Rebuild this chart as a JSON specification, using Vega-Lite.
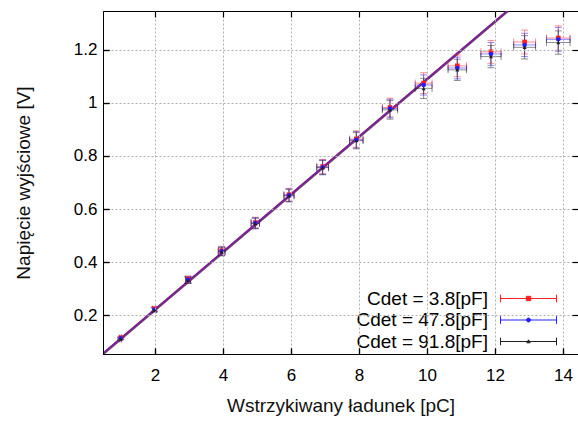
{
  "$schema": "https://vega.github.io/schema/vega-lite/v6.json",
  "width": 475,
  "height": 343,
  "autosize": {"type": "none"},
  "padding": {"left": 103, "top": 11, "right": 0, "bottom": 67},
  "background": "white",
  "config": {
    "view": {"stroke": "#000000", "strokeWidth": 1},
    "font": "Liberation Sans",
    "axis": {
      "labelFont": "Liberation Sans", "labelFontSize": 17, "labelColor": "#000000",
      "titleFont": "Liberation Sans", "titleFontSize": 19, "titleFontWeight": "normal", "titleColor": "#111111",
      "domainColor": "#000000", "tickColor": "#000000", "tickSize": -6, "tickWidth": 1.2,
      "gridColor": "#b0b0b0", "gridDash": [2, 2], "gridWidth": 1
    }
  },
  "resolve": {"axis": {"x": "independent", "y": "independent"}},
  "datasets": {
    "pts": [
      {"series": "Cdet = 3.8[pF]", "x": 0.99, "ex": 0.025, "y": 0.114, "ey": 0.004},
      {"series": "Cdet = 3.8[pF]", "x": 1.98, "ex": 0.05, "y": 0.223, "ey": 0.008},
      {"series": "Cdet = 3.8[pF]", "x": 2.97, "ex": 0.074, "y": 0.335, "ey": 0.012},
      {"series": "Cdet = 3.8[pF]", "x": 3.96, "ex": 0.099, "y": 0.443, "ey": 0.016},
      {"series": "Cdet = 3.8[pF]", "x": 4.95, "ex": 0.124, "y": 0.549, "ey": 0.02},
      {"series": "Cdet = 3.8[pF]", "x": 5.94, "ex": 0.149, "y": 0.654, "ey": 0.024},
      {"series": "Cdet = 3.8[pF]", "x": 6.93, "ex": 0.173, "y": 0.76, "ey": 0.027},
      {"series": "Cdet = 3.8[pF]", "x": 7.92, "ex": 0.198, "y": 0.864, "ey": 0.031},
      {"series": "Cdet = 3.8[pF]", "x": 8.91, "ex": 0.223, "y": 0.983, "ey": 0.035},
      {"series": "Cdet = 3.8[pF]", "x": 9.9, "ex": 0.248, "y": 1.075, "ey": 0.039},
      {"series": "Cdet = 3.8[pF]", "x": 10.89, "ex": 0.272, "y": 1.14, "ey": 0.041},
      {"series": "Cdet = 3.8[pF]", "x": 11.88, "ex": 0.297, "y": 1.193, "ey": 0.043},
      {"series": "Cdet = 3.8[pF]", "x": 12.87, "ex": 0.322, "y": 1.23, "ey": 0.045},
      {"series": "Cdet = 3.8[pF]", "x": 13.86, "ex": 0.347, "y": 1.245, "ey": 0.046},
      {"series": "Cdet = 47.8[pF]", "x": 0.99, "ex": 0.025, "y": 0.112, "ey": 0.004},
      {"series": "Cdet = 47.8[pF]", "x": 1.98, "ex": 0.05, "y": 0.221, "ey": 0.008},
      {"series": "Cdet = 47.8[pF]", "x": 2.97, "ex": 0.074, "y": 0.333, "ey": 0.012},
      {"series": "Cdet = 47.8[pF]", "x": 3.96, "ex": 0.099, "y": 0.441, "ey": 0.016},
      {"series": "Cdet = 47.8[pF]", "x": 4.95, "ex": 0.124, "y": 0.547, "ey": 0.02},
      {"series": "Cdet = 47.8[pF]", "x": 5.94, "ex": 0.149, "y": 0.652, "ey": 0.024},
      {"series": "Cdet = 47.8[pF]", "x": 6.93, "ex": 0.173, "y": 0.758, "ey": 0.027},
      {"series": "Cdet = 47.8[pF]", "x": 7.92, "ex": 0.198, "y": 0.861, "ey": 0.031},
      {"series": "Cdet = 47.8[pF]", "x": 8.91, "ex": 0.223, "y": 0.979, "ey": 0.035},
      {"series": "Cdet = 47.8[pF]", "x": 9.9, "ex": 0.248, "y": 1.068, "ey": 0.038},
      {"series": "Cdet = 47.8[pF]", "x": 10.89, "ex": 0.272, "y": 1.132, "ey": 0.041},
      {"series": "Cdet = 47.8[pF]", "x": 11.88, "ex": 0.297, "y": 1.185, "ey": 0.043},
      {"series": "Cdet = 47.8[pF]", "x": 12.87, "ex": 0.322, "y": 1.219, "ey": 0.044},
      {"series": "Cdet = 47.8[pF]", "x": 13.86, "ex": 0.347, "y": 1.24, "ey": 0.045},
      {"series": "Cdet = 91.8[pF]", "x": 0.99, "ex": 0.025, "y": 0.11, "ey": 0.004},
      {"series": "Cdet = 91.8[pF]", "x": 1.98, "ex": 0.05, "y": 0.219, "ey": 0.008},
      {"series": "Cdet = 91.8[pF]", "x": 2.97, "ex": 0.074, "y": 0.331, "ey": 0.012},
      {"series": "Cdet = 91.8[pF]", "x": 3.96, "ex": 0.099, "y": 0.439, "ey": 0.016},
      {"series": "Cdet = 91.8[pF]", "x": 4.95, "ex": 0.124, "y": 0.545, "ey": 0.02},
      {"series": "Cdet = 91.8[pF]", "x": 5.94, "ex": 0.149, "y": 0.65, "ey": 0.023},
      {"series": "Cdet = 91.8[pF]", "x": 6.93, "ex": 0.173, "y": 0.756, "ey": 0.027},
      {"series": "Cdet = 91.8[pF]", "x": 7.92, "ex": 0.198, "y": 0.858, "ey": 0.031},
      {"series": "Cdet = 91.8[pF]", "x": 8.91, "ex": 0.223, "y": 0.974, "ey": 0.035},
      {"series": "Cdet = 91.8[pF]", "x": 9.9, "ex": 0.248, "y": 1.055, "ey": 0.038},
      {"series": "Cdet = 91.8[pF]", "x": 10.89, "ex": 0.272, "y": 1.125, "ey": 0.04},
      {"series": "Cdet = 91.8[pF]", "x": 11.88, "ex": 0.297, "y": 1.175, "ey": 0.042},
      {"series": "Cdet = 91.8[pF]", "x": 12.87, "ex": 0.322, "y": 1.21, "ey": 0.044},
      {"series": "Cdet = 91.8[pF]", "x": 13.86, "ex": 0.347, "y": 1.228, "ey": 0.044}
    ],
    "fits": [
      {"series": "Cdet = 91.8[pF]", "x": 0.3, "y": 0.0336},
      {"series": "Cdet = 91.8[pF]", "x": 12.8, "y": 1.3924},
      {"series": "Cdet = 3.8[pF]", "x": 0.3, "y": 0.0366},
      {"series": "Cdet = 3.8[pF]", "x": 12.8, "y": 1.3954},
      {"series": "Cdet = 47.8[pF]", "x": 0.3, "y": 0.0366},
      {"series": "Cdet = 47.8[pF]", "x": 12.8, "y": 1.3954}
    ]
  },
  "layer": [
    {
      "data": {"name": "pts"},
      "mark": {"type": "point", "filled": false, "opacity": 0, "size": 400, "clip": true},
      "encoding": {
        "x": {"field": "x", "type": "quantitative", "scale": {"domain": [0.47, 14.44], "nice": false, "zero": false},
              "axis": {"orient": "bottom", "values": [2, 4, 6, 8, 10, 12, 14], "title": "Wstrzykiwany ładunek [pC]", "grid": true, "labelPadding": 19, "titlePadding": 13, "zindex": 1}},
        "y": {"field": "y", "type": "quantitative", "scale": {"domain": [0.053, 1.347], "nice": false, "zero": false},
              "axis": {"orient": "left", "values": [0.2, 0.4, 0.6, 0.8, 1, 1.2], "format": "~g", "title": "Napięcie wyjściowe [V]", "grid": true, "labelPadding": 12, "titlePadding": 40, "zindex": 1}},
        "color": {"field": "series", "type": "nominal",
                  "scale": {"domain": ["Cdet = 3.8[pF]", "Cdet = 47.8[pF]", "Cdet = 91.8[pF]"], "range": ["#ff2020", "#2020ff", "#202020"]},
                  "legend": {"title": null, "orient": "none", "legendX": 415, "legendY": 277, "labelAlign": "right", "labelOffset": -51,
                             "labelFont": "Liberation Sans", "labelFontSize": 19, "labelColor": "#000000", "symbolSize": 400, "symbolStrokeWidth": 1,
                             "symbolOpacity": 1, "fillColor": "white", "padding": 0, "rowPadding": 0.5, "labelLimit": 300}},
        "shape": {"field": "series", "type": "nominal",
                  "scale": {"domain": ["Cdet = 3.8[pF]", "Cdet = 47.8[pF]", "Cdet = 91.8[pF]"],
                            "range": [
                              "M -2.8 0 L 2.8 0 M -2.8 -0.38 L -2.8 0.38 M 2.8 -0.38 L 2.8 0.38 M -0.22 -0.22 L 0.22 -0.22 L 0.22 0.22 L -0.22 0.22 Z M -0.1 -0.1 L 0.1 -0.1 L 0.1 0.1 L -0.1 0.1 Z",
                              "M -2.8 0 L 2.8 0 M -2.8 -0.38 L -2.8 0.38 M 2.8 -0.38 L 2.8 0.38 M -0.2 0 A 0.2 0.2 0 1 0 0.2 0 A 0.2 0.2 0 1 0 -0.2 0 Z M -0.08 0 A 0.08 0.08 0 1 0 0.08 0 A 0.08 0.08 0 1 0 -0.08 0 Z",
                              "M -2.8 0 L 2.8 0 M -2.8 -0.38 L -2.8 0.38 M 2.8 -0.38 L 2.8 0.38 M 0 -0.17 L 0.17 0.13 L -0.17 0.13 Z"
                            ]},
                  "legend": {"title": null, "orient": "none", "legendX": 415, "legendY": 277, "labelAlign": "right", "labelOffset": -51,
                             "labelFont": "Liberation Sans", "labelFontSize": 19, "labelColor": "#000000", "symbolSize": 400, "symbolStrokeWidth": 1,
                             "symbolOpacity": 1, "fillColor": "white", "padding": 0, "rowPadding": 0.5, "labelLimit": 300}}
      }
    },
    {
      "data": {"name": "pts"},
      "mark": {"type": "point", "opacity": 0},
      "encoding": {
        "x": {"field": "x", "type": "quantitative", "axis": {"orient": "top", "values": [2, 4, 6, 8, 10, 12, 14], "labels": false, "title": null, "grid": false, "domain": false, "ticks": true, "tickSize": 6, "offset": -6, "tickColor": "#000000", "tickWidth": 1.2, "zindex": 1}},
        "y": {"field": "y", "type": "quantitative", "axis": {"orient": "right", "values": [0.2, 0.4, 0.6, 0.8, 1, 1.2], "labels": false, "title": null, "grid": false, "domain": false, "ticks": true, "tickSize": 6, "offset": -6, "tickColor": "#000000", "tickWidth": 1.2, "zindex": 1}}
      }
    },
    {
      "data": {"name": "pts"},
      "mark": {"type": "point", "opacity": 0},
      "encoding": {
        "x": {"field": "x", "type": "quantitative", "axis": {"orient": "bottom", "values": [2, 4, 6, 8, 10, 12, 14], "labels": false, "title": null, "grid": false, "domain": false, "ticks": true, "tickSize": 6, "offset": -6, "tickColor": "#000000", "tickWidth": 1.2, "zindex": 1}},
        "y": {"field": "y", "type": "quantitative", "axis": {"orient": "left", "values": [0.2, 0.4, 0.6, 0.8, 1, 1.2], "labels": false, "title": null, "grid": false, "domain": false, "ticks": true, "tickSize": 6, "offset": -6, "tickColor": "#000000", "tickWidth": 1.2, "zindex": 1}}
      }
    },
    {
      "data": {"name": "fits"},
      "transform": [{"filter": "datum.series == 'Cdet = 91.8[pF]'"}],
      "mark": {"type": "line", "strokeWidth": 2.2, "clip": true, "opacity": 0.75},
      "encoding": {
        "x": {"field": "x", "type": "quantitative", "axis": null},
        "y": {"field": "y", "type": "quantitative", "axis": null},
        "color": {"field": "series", "type": "nominal", "legend": null}
      }
    },
    {
      "data": {"name": "fits"},
      "transform": [{"filter": "datum.series == 'Cdet = 3.8[pF]'"}],
      "mark": {"type": "line", "strokeWidth": 1.8, "clip": true},
      "encoding": {
        "x": {"field": "x", "type": "quantitative", "axis": null},
        "y": {"field": "y", "type": "quantitative", "axis": null},
        "color": {"field": "series", "type": "nominal", "legend": null}
      }
    },
    {
      "data": {"name": "fits"},
      "transform": [{"filter": "datum.series == 'Cdet = 47.8[pF]'"}],
      "mark": {"type": "line", "strokeWidth": 1.8, "clip": true, "opacity": 0.6},
      "encoding": {
        "x": {"field": "x", "type": "quantitative", "axis": null},
        "y": {"field": "y", "type": "quantitative", "axis": null},
        "color": {"field": "series", "type": "nominal", "legend": null}
      }
    },
    {
      "data": {"name": "pts"},
      "mark": {"type": "errorbar", "ticks": {"size": 7}, "opacity": 0.5, "clip": true},
      "encoding": {
        "x": {"field": "x", "type": "quantitative", "axis": null},
        "xError": {"field": "ex"},
        "y": {"field": "y", "type": "quantitative", "axis": null},
        "color": {"field": "series", "type": "nominal", "legend": null}
      }
    },
    {
      "data": {"name": "pts"},
      "mark": {"type": "errorbar", "ticks": {"size": 7}, "opacity": 0.5, "clip": true},
      "encoding": {
        "y": {"field": "y", "type": "quantitative", "axis": null},
        "yError": {"field": "ey"},
        "x": {"field": "x", "type": "quantitative", "axis": null},
        "color": {"field": "series", "type": "nominal", "legend": null}
      }
    },
    {
      "data": {"name": "pts"},
      "transform": [{"filter": "datum.series == 'Cdet = 3.8[pF]'"}],
      "mark": {"type": "point", "shape": "square", "filled": true, "size": 22, "opacity": 1, "clip": true},
      "encoding": {
        "x": {"field": "x", "type": "quantitative", "axis": null},
        "y": {"field": "y", "type": "quantitative", "axis": null},
        "color": {"field": "series", "type": "nominal", "legend": null}
      }
    },
    {
      "data": {"name": "pts"},
      "transform": [{"filter": "datum.series == 'Cdet = 47.8[pF]'"}],
      "mark": {"type": "point", "shape": "circle", "filled": true, "size": 20, "opacity": 1, "clip": true},
      "encoding": {
        "x": {"field": "x", "type": "quantitative", "axis": null},
        "y": {"field": "y", "type": "quantitative", "axis": null},
        "color": {"field": "series", "type": "nominal", "legend": null}
      }
    },
    {
      "data": {"name": "pts"},
      "transform": [{"filter": "datum.series == 'Cdet = 91.8[pF]'"}],
      "mark": {"type": "point", "shape": "triangle-up", "filled": true, "size": 16, "opacity": 1, "clip": true},
      "encoding": {
        "x": {"field": "x", "type": "quantitative", "axis": null},
        "y": {"field": "y", "type": "quantitative", "axis": null},
        "color": {"field": "series", "type": "nominal", "legend": null}
      }
    }
  ]
}
